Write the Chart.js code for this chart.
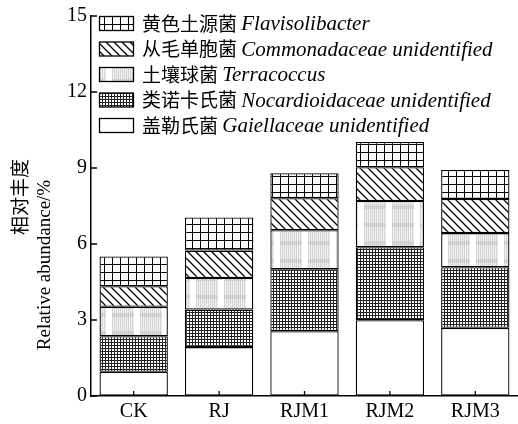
<!DOCTYPE html>
<html>
<head>
<meta charset="utf-8">
<script src="https://cdn.jsdelivr.net/npm/chart.js@4.4.1/dist/chart.umd.min.js"></script>
<style>
  html, body { margin: 0; padding: 0; background: #fff; }
  #wrap { width: 518px; height: 424px; position: relative; }
</style>
</head>
<body>
<div id="wrap"><canvas id="abundChart"></canvas></div>
<script>
// groups and relative abundance (%) per genus, bottom to top of each stack
const groups = ['CK', 'RJ', 'RJM1', 'RJM2', 'RJM3'];
const gaiella = [0.96, 1.93, 2.56, 2.99, 2.69];
const nocardio = [1.40, 1.48, 2.44, 2.88, 2.39];
const terraco = [1.16, 1.25, 1.54, 1.83, 1.35];
const commona = [0.81, 1.08, 1.27, 1.33, 1.35];
const flaviso = [1.18, 1.31, 0.98, 1.00, 1.14];

const cnNames = ['盖勒氏菌', '类诺卡氏菌', '土壤球菌', '从毛单胞菌', '黄色土源菌'];
const latinNames = ['Gaiellaceae unidentified', 'Nocardioidaceae unidentified', 'Terracoccus',
  'Commonadaceae unidentified', 'Flavisolibacter'];
const yTicks = [0, 3, 6, 9, 12, 15];
const yTitle = ['相对丰度', 'Relative abundance/%'];

const serif = "'Liberation Serif', 'Times New Roman', serif";
const cjk = "'Noto Sans CJK SC', sans-serif";

// little canvas tiles for the hatch fills
function tile(w, h, draw) {
  const c = document.createElement('canvas');
  c.width = w; c.height = h;
  const g = c.getContext('2d');
  g.fillStyle = '#fff';
  g.fillRect(0, 0, w, h);
  draw(g);
  return document.createElement('canvas').getContext('2d').createPattern(c, 'repeat');
}

const fills = [
  '#ffffff',
  tile(3, 3, g => {           // dense fine grid
    g.fillStyle = '#222';
    g.fillRect(0, 0, 3, 1);
    g.fillRect(0, 0, 1, 3);
  }),
  tile(28, 18, g => {         // pale striped blocks
    g.fillStyle = '#efefef';
    g.fillRect(0, 0, 22, 18);
    g.fillStyle = '#d6d6d6';
    for (let x = 0; x < 22; x += 2) g.fillRect(x, 0, 1, 18);
    g.fillStyle = 'rgba(200,200,200,0.6)';
    g.fillRect(0, 7, 22, 4);
  }),
  tile(8, 8, g => {           // back diagonal
    g.strokeStyle = '#000';
    g.lineWidth = 1.3;
    g.beginPath();
    g.moveTo(-1, -1); g.lineTo(9, 9);
    g.moveTo(-1, 7); g.lineTo(1, 9);
    g.moveTo(7, -1); g.lineTo(9, 1);
    g.stroke();
  }),
  tile(8, 8, g => {           // open grid
    g.fillStyle = '#000';
    g.fillRect(0, 0, 8, 1);
    g.fillRect(0, 0, 1, 8);
  })
];

const series = [gaiella, nocardio, terraco, commona, flaviso];

const extras = {
  id: 'extras',
  afterDraw(chart) {
    const ctx = chart.ctx;
    const xs = chart.scales.x, ys = chart.scales.y;
    const area = chart.chartArea;
    ctx.save();
    ctx.strokeStyle = '#000';
    ctx.lineWidth = 1.3;
    // inward tick marks
    ctx.beginPath();
    xs.ticks.forEach((t, i) => {
      const px = xs.getPixelForTick(i);
      ctx.moveTo(px, area.bottom);
      ctx.lineTo(px, area.bottom - 5);
    });
    ys.ticks.forEach((t, i) => {
      const py = ys.getPixelForTick(i);
      ctx.moveTo(area.left, py);
      ctx.lineTo(area.left + 6, py);
    });
    ctx.stroke();

    // axis title, two rotated lines
    ctx.fillStyle = '#000';
    ctx.textAlign = 'center';
    ctx.textBaseline = 'middle';
    ctx.save();
    ctx.translate(20, 197);
    ctx.rotate(-Math.PI / 2);
    ctx.font = '19px ' + cjk;
    ctx.fillText(yTitle[0], 0, 0);
    ctx.restore();
    ctx.save();
    ctx.translate(45, 265);
    ctx.rotate(-Math.PI / 2);
    ctx.font = '19px ' + serif;
    ctx.fillText(yTitle[1], 0, 0);
    ctx.restore();

    // legend, top series first
    ctx.textAlign = 'left';
    for (let r = 0; r < 5; r++) {
      const k = 4 - r;
      const cy = 23.5 + r * 25.5;
      ctx.fillStyle = fills[k];
      ctx.fillRect(99.5, cy - 7, 34, 14);
      ctx.strokeRect(99.5, cy - 7, 34, 14);
      ctx.fillStyle = '#000';
      ctx.font = '19px ' + cjk;
      const cn = cnNames[k] + ' ';
      ctx.fillText(cn, 142, cy);
      const w = ctx.measureText(cn).width;
      ctx.font = 'italic 21px ' + serif;
      ctx.fillText(latinNames[k], 142 + w, cy + 1);
    }
    ctx.restore();
  }
};

new Chart(document.getElementById('abundChart'), {
  type: 'bar',
  data: {
    labels: groups,
    datasets: series.map((vals, k) => ({
      label: latinNames[k],
      data: vals,
      backgroundColor: fills[k],
      borderColor: '#000',
      borderWidth: 1.3,
      borderSkipped: false,
      categoryPercentage: 0.8,
      barPercentage: 1.0
    }))
  },
  options: {
    responsive: true,
    maintainAspectRatio: false,
    animation: false,
    layout: { padding: { top: 14, right: 0, left: 0, bottom: 0 } },
    plugins: { legend: { display: false }, tooltip: { enabled: false } },
    scales: {
      x: {
        stacked: true,
        grid: { display: true, drawOnChartArea: false, drawTicks: false },
        border: { display: true, color: '#000', width: 1.5 },
        ticks: { color: '#000', font: { family: serif, size: 20 }, padding: 4 },
        afterFit(scale) { scale.height = 28; }
      },
      y: {
        stacked: true,
        min: 0,
        max: 15,
        afterBuildTicks(scale) { scale.ticks = yTicks.map(v => ({ value: v })); },
        grid: { display: true, drawOnChartArea: false, drawTicks: false },
        border: { display: true, color: '#000', width: 1.5 },
        ticks: { color: '#000', font: { family: serif, size: 20 }, padding: 4 },
        afterFit(scale) { scale.width = 91; }
      }
    }
  },
  plugins: [extras]
});
</script>
</body>
</html>
